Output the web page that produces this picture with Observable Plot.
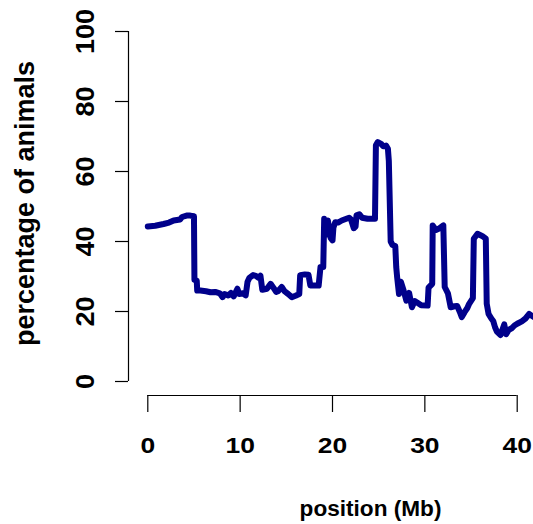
<!DOCTYPE html>
<html>
<head>
<meta charset="utf-8">
<script src="https://cdn.jsdelivr.net/npm/d3@7"></script>
<script src="https://cdn.jsdelivr.net/npm/@observablehq/plot@0.6"></script>
<style>
  html, body { margin: 0; padding: 0; background: white; }
</style>
</head>
<body>
<div id="chart"></div>
<script>
// position along chromosome (Mb)
const posMb = [
  0.0, 0.8, 1.7, 2.3, 2.8, 3.5, 3.7, 4.2, 4.6, 5.0,
  5.05, 5.3, 5.35, 5.7, 6.3, 6.8, 7.3, 7.8, 8.1, 8.3,
  8.7, 9.0, 9.3, 9.7, 9.9, 10.3, 10.6, 10.8, 11.0, 11.4,
  11.7, 12.0, 12.2, 12.4, 12.9, 13.3, 13.6, 13.9, 14.1, 14.5,
  14.8, 15.2, 15.6, 16.0, 16.4, 16.5, 17.0, 17.4, 17.6, 18.5,
  18.7, 19.0, 19.1, 19.2, 19.4, 19.5, 19.8, 20.0, 20.1, 20.3,
  20.6, 21.0, 21.5, 21.8, 22.0, 22.3, 22.5, 22.6, 22.9, 23.2,
  23.8, 24.6, 24.7, 24.9, 25.3, 25.5, 25.8, 26.0, 26.1, 26.3,
  26.5, 26.8, 26.9, 27.0, 27.2, 27.4, 27.7, 28.0, 28.3, 28.6,
  28.9, 29.2, 29.6, 30.3, 30.4, 30.8, 30.85, 31.2, 31.6, 32.0,
  32.15, 32.5, 32.8, 33.2, 33.5, 33.8, 34.0, 34.3, 34.6, 34.8,
  35.2, 35.3, 35.7, 36.2, 36.6, 36.7, 36.9, 37.2, 37.4, 37.6,
  37.8, 38.2, 38.6, 38.8, 39.1, 39.4, 39.7, 40.0, 40.5, 40.9,
  41.3, 41.8
];
// percentage of animals
const pctAnimals = [
  44.3, 44.5, 45.0, 45.4, 46.0, 46.3, 47.0, 47.4, 47.4, 47.2,
  29.0, 28.8, 26.0, 26.0, 25.8, 25.5, 25.6, 25.2, 24.1, 25.0,
  24.6, 25.3, 24.3, 26.5, 25.0, 25.2, 24.6, 28.5, 29.6, 30.4,
  30.2, 29.6, 30.2, 26.2, 26.5, 27.9, 26.8, 25.6, 25.8, 27.0,
  25.8, 25.0, 24.1, 24.5, 25.0, 30.4, 30.6, 30.5, 27.4, 27.4,
  32.7, 32.7, 46.5, 45.5, 42.0, 46.0, 41.0, 40.3, 44.0, 45.5,
  45.4, 46.0, 46.5, 46.8, 46.3, 43.8, 44.3, 47.5, 47.8, 46.8,
  46.5, 46.5, 67.5, 68.4, 67.8, 67.2, 67.4, 66.5, 63.0, 40.0,
  39.0, 38.7, 32.7, 29.8, 25.0, 28.5, 26.0, 23.1, 25.3, 21.2,
  23.0, 22.5, 21.8, 21.7, 26.8, 27.9, 44.6, 43.3, 43.8, 44.6,
  27.0, 25.2, 21.2, 21.5, 21.6, 19.8, 18.4, 19.8, 21.0, 22.2,
  23.8, 40.8, 42.2, 41.6, 40.8, 22.2, 19.3, 18.0, 17.3, 15.5,
  14.3, 13.3, 16.3, 13.5, 14.8, 15.2, 16.0, 16.5, 17.2, 18.0,
  19.3, 18.4
];
const xTicks = [0, 10, 20, 30, 40];
const yTicks = [0, 20, 40, 60, 80, 100];
const xLabel = "position (Mb)";
const yLabel = "percentage of animals";

// axis line offsets (4% of the plotting range, as in base R graphics)
const xAxisAt = -2.09;
const yAxisAt = -4;

const data = posMb.map((x, i) => ({x, y: pctAnimals[i]}));

const svg = Plot.plot({
  width: 533,
  height: 524,
  marginLeft: 128,
  marginRight: 0,
  marginTop: 17,
  marginBottom: 129,
  x: {domain: [0, 40], range: [147.3, 516.7]},
  y: {domain: [0, 100], range: [381, 31]},
  style: {
    background: "white",
    color: "black",
    fontFamily: "'Liberation Sans', Arial, Helvetica, sans-serif",
    overflow: "hidden"
  },
  marks: [
    Plot.ruleX([xAxisAt], {y1: 0, y2: 100, stroke: "black", strokeWidth: 1.2}),
    Plot.ruleY([yAxisAt], {x1: 0, x2: 40, stroke: "black", strokeWidth: 1.2}),
    Plot.axisY(yTicks, {
      tickSize: 13, tickPadding: 22, tickRotate: -90,
      fontSize: 27, fontWeight: "bold", label: null, strokeWidth: 1.2
    }),
    Plot.axisX(xTicks, {
      tickSize: 17, tickPadding: 24.5,
      fontSize: 22.6, fontWeight: "bold", label: null, strokeWidth: 1.2
    }),
    Plot.line(data, {
      x: "x", y: "y", stroke: "#00008B", strokeWidth: 6,
      strokeLinejoin: "round", strokeLinecap: "round"
    }),
    Plot.text([xLabel], {
      text: d => d, frameAnchor: "bottom", textAnchor: "middle", dx: 39.5, dy: 120,
      lineAnchor: "bottom", fontSize: 22.6, fontWeight: "bold",
      ariaLabel: "x-title"
    }),
    Plot.text([yLabel], {
      text: d => d, frameAnchor: "left", textAnchor: "middle", rotate: -90, dx: -95, dy: -3,
      lineAnchor: "bottom", fontSize: 27, fontWeight: "bold",
      ariaLabel: "y-title"
    })
  ]
});

function stretch(selector, sx, sy) {
  svg.querySelectorAll(selector).forEach(el => {
    const t = el.getAttribute("transform") || "";
    el.setAttribute("transform", `${t} scale(${sx},${sy})`);
  });
}
stretch('g[aria-label="x-axis tick label"] text', 1.17, 1);
stretch('g[aria-label="x-title"] text', 1.17, 1);
stretch('g[aria-label="y-axis tick label"] text', 1, 0.95);
stretch('g[aria-label="y-title"] text', 1, 1.12);

document.getElementById("chart").appendChild(svg);
</script>
</body>
</html>
